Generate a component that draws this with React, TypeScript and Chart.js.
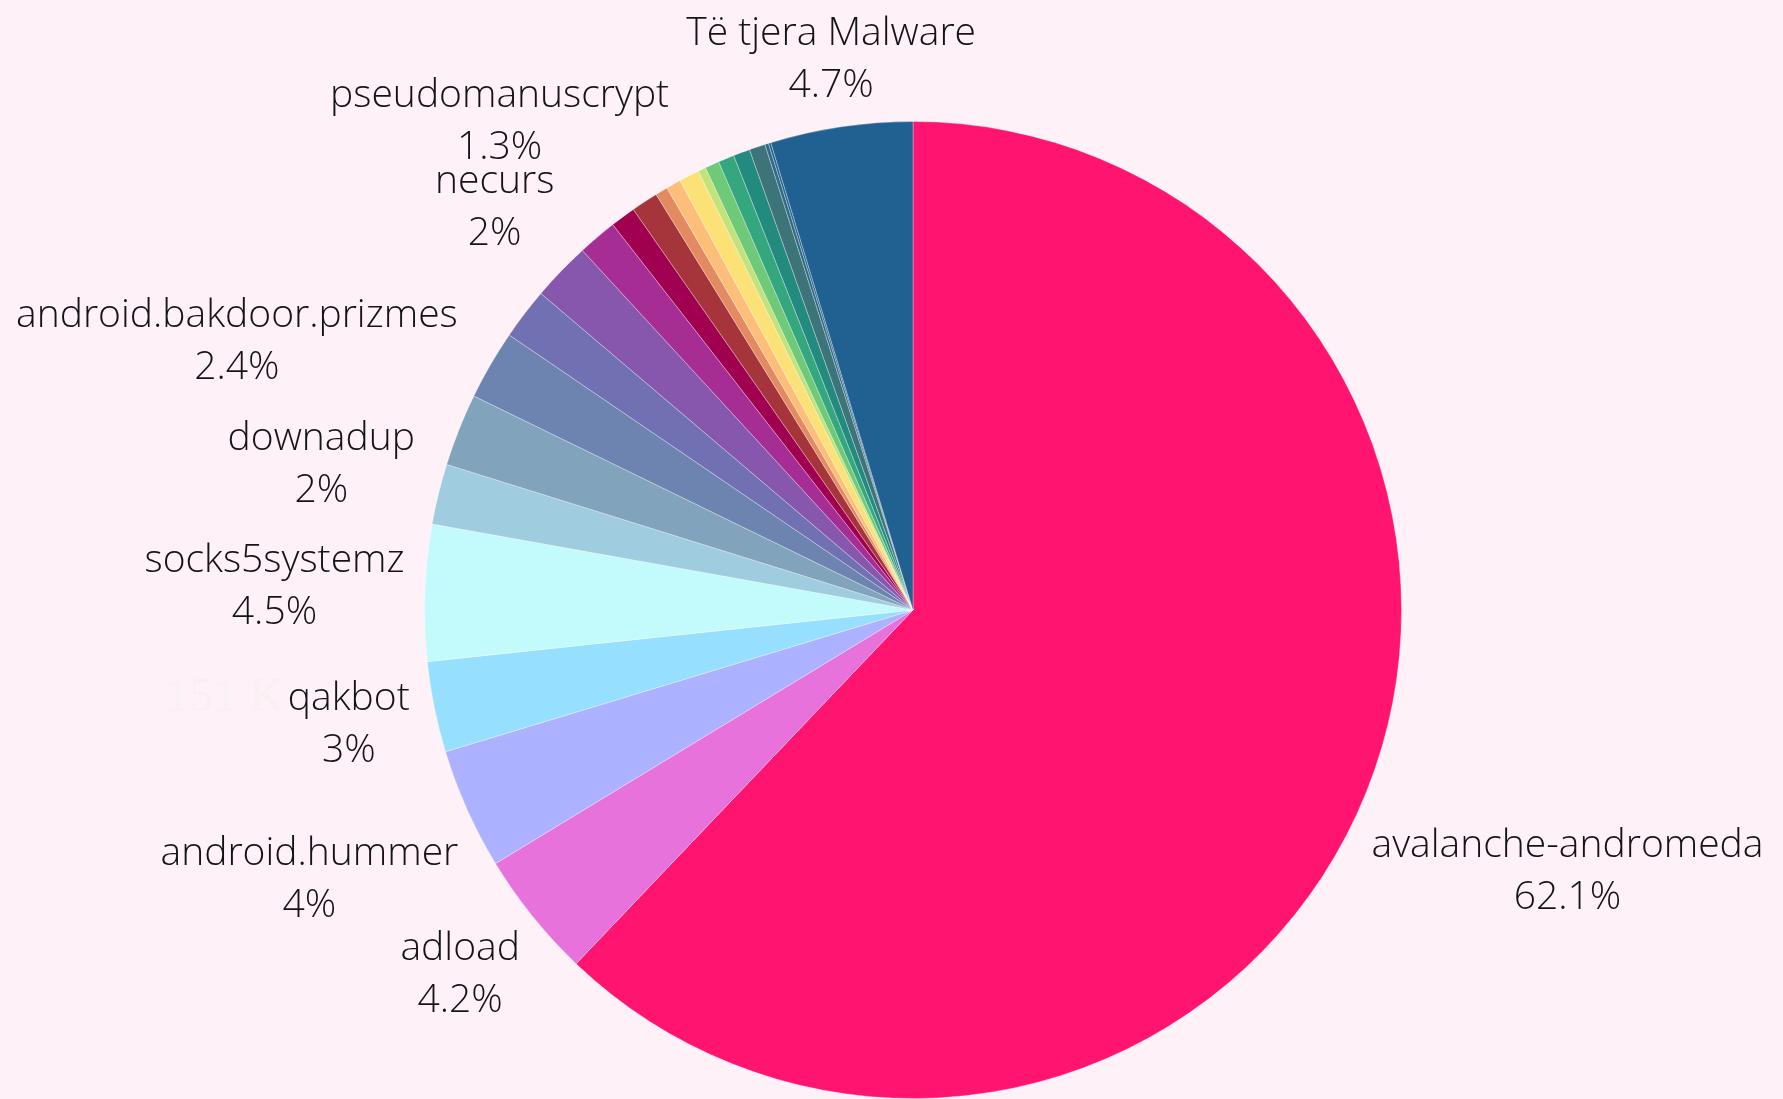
import { useEffect, useRef } from "react";
import { Chart, ArcElement, PieController } from "chart.js";

Chart.register(ArcElement, PieController);

// Slices in clockwise order starting at 12 o'clock
const categories = [
  "avalanche-andromeda",
  "adload",
  "android.hummer",
  "qakbot",
  "socks5systemz",
  "downadup",
  "android.bakdoor.prizmes",
  "",
  "",
  "necurs",
  "pseudomanuscrypt",
  "",
  "",
  "",
  "",
  "",
  "",
  "",
  "",
  "",
  "",
  "",
  "",
  "Të tjera Malware",
];

const values = [
  62.1, 4.2, 4.0, 3.0, 4.5, 2.0, 2.4, 2.3, 1.7, 1.95, 1.3, 0.83, 0.89, 0.41,
  0.49, 0.67, 0.26, 0.47, 0.53, 0.55, 0.53, 0.12, 0.08, 4.7,
];

const percentLabels = [
  "62.1%", "4.2%", "4%", "3%", "4.5%", "2%", "2.4%", "", "", "2%", "1.3%",
  "", "", "", "", "", "", "", "", "", "", "", "", "4.7%",
];

const sliceColors = [
  "#FF1470", "#E872DC", "#ACB2FF", "#96DFFF", "#C3FAFC", "#9FCDDF",
  "#82A3BC", "#6C84AF", "#7070B3", "#8757AD", "#A62D94", "#A10050",
  "#A5343B", "#E48A61", "#FDBE7A", "#FCE176", "#C2E37C", "#6EC978",
  "#34A77E", "#238A80", "#3D7479", "#2F6A86", "#28668E", "#206192",
];

const qakbotValueText = "151 K";

const BG = "#FFF1F8";
const LABEL_FONT = '300 39px "Open Sans"';
const LINE_H = 52;
const GAP = 20;

const labelPlugin = {
  id: "outsideLabels",
  afterDatasetsDraw(chart: any) {
    const ctx = chart.ctx as CanvasRenderingContext2D;
    const meta = chart.getDatasetMeta(0);
    ctx.save();
    ctx.font = LABEL_FONT;
    ctx.fillStyle = "#141414";
    ctx.textAlign = "center";
    ctx.textBaseline = "middle";
    meta.data.forEach((arc: any, i: number) => {
      const name = categories[i];
      const pct = percentLabels[i];
      if (!name) return;
      const { x: cx, y: cy, startAngle, endAngle, outerRadius } = arc.getProps(
        ["x", "y", "startAngle", "endAngle", "outerRadius"],
        true
      );
      const mid = (startAngle + endAngle) / 2;
      const ux = Math.cos(mid);
      const uy = Math.sin(mid);
      const w = Math.max(ctx.measureText(name).width, ctx.measureText(pct).width);
      const hh = LINE_H / 2 + 16;
      const rClear = outerRadius + GAP;
      let lo = 0;
      let hi = rClear + w + 400;
      for (let k = 0; k < 50; k++) {
        const d = (lo + hi) / 2;
        const bx = cx + ux * d;
        const by = cy + uy * d;
        const nx = Math.min(Math.max(cx, bx - w / 2), bx + w / 2);
        const ny = Math.min(Math.max(cy, by - hh), by + hh);
        const dist = Math.hypot(nx - cx, ny - cy);
        if (dist >= rClear) hi = d;
        else lo = d;
      }
      const bx = cx + ux * hi;
      const by = cy + uy * hi;
      ctx.fillText(name, bx, by - LINE_H / 2);
      ctx.fillText(pct, bx, by + LINE_H / 2);
      if (name === "qakbot") {
        const nw = ctx.measureText(name).width;
        ctx.save();
        ctx.font = '48px "Liberation Serif"';
        ctx.fillStyle = "#F7F1F3";
        ctx.textAlign = "right";
        ctx.fillText(qakbotValueText, bx - nw / 2 - 4, by - LINE_H / 2);
        ctx.restore();
      }
    });
    ctx.restore();
  },
};

export default function App() {
  const ref = useRef<HTMLCanvasElement>(null);
  useEffect(() => {
    document.body.style.margin = "0";
    document.body.style.background = BG;
    const canvas = ref.current!;
    const chart = new Chart(canvas, {
      type: "pie",
      data: {
        labels: categories,
        datasets: [
          {
            data: values,
            backgroundColor: sliceColors,
            borderColor: "rgba(255,255,255,0.3)",
            borderWidth: 1,
          },
        ],
      },
      options: {
        responsive: false,
        animation: false,
        layout: { padding: { left: 424, right: 381, top: 121, bottom: 0 } },
        plugins: { legend: { display: false }, tooltip: { enabled: false } },
      },
      plugins: [labelPlugin],
    });
    return () => chart.destroy();
  }, []);
  return (
    <div style={{ width: 1783, height: 1099, background: BG, overflow: "hidden" }}>
      <canvas ref={ref} width={1783} height={1099} style={{ display: "block" }} />
    </div>
  );
}
